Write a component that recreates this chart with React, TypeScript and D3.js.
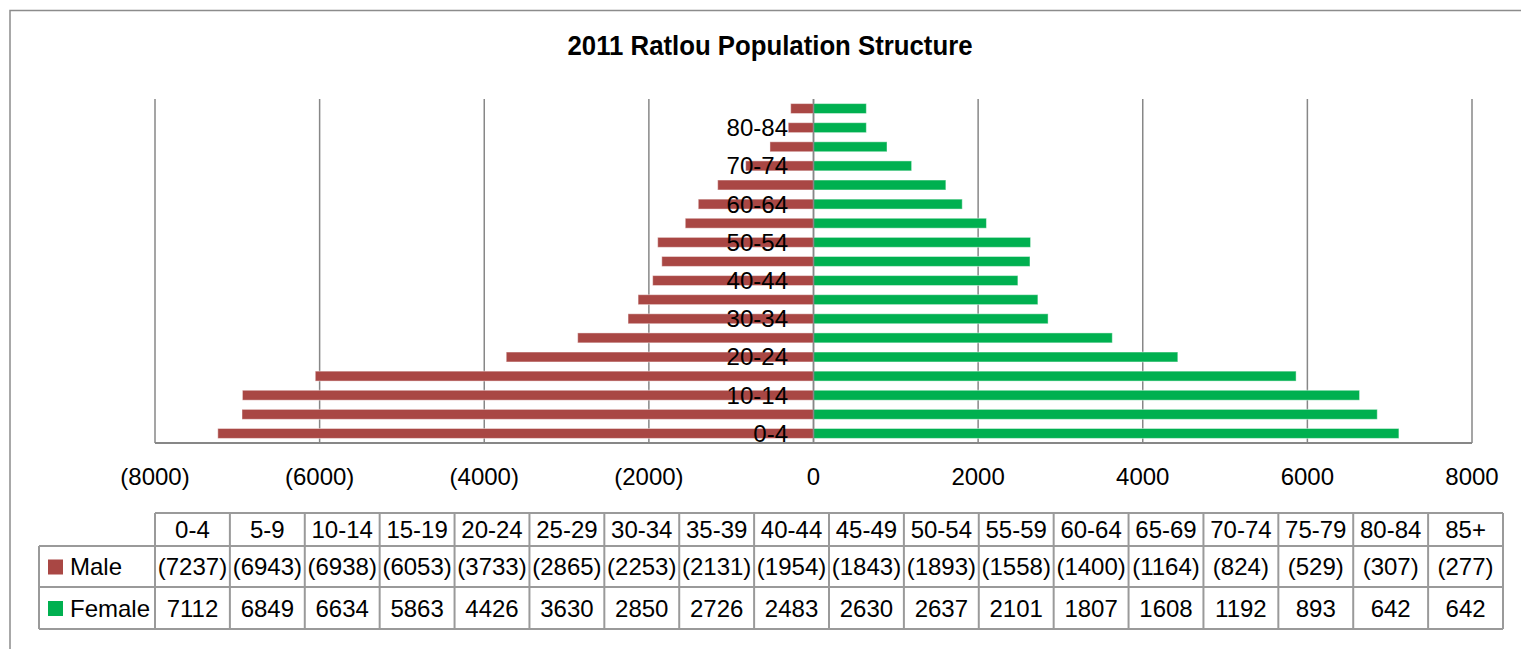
import React, { useEffect } from "react";
import * as d3 from "d3";

// Age groups, youngest first
const ageGroups = [
  "0-4", "5-9", "10-14", "15-19", "20-24", "25-29", "30-34", "35-39", "40-44",
  "45-49", "50-54", "55-59", "60-64", "65-69", "70-74", "75-79", "80-84", "85+",
];
// Male counts are stored as negatives so they extend left of zero
const maleValues = [
  -7237, -6943, -6938, -6053, -3733, -2865, -2253, -2131, -1954,
  -1843, -1893, -1558, -1400, -1164, -824, -529, -307, -277,
];
const femaleValues = [
  7112, 6849, 6634, 5863, 4426, 3630, 2850, 2726, 2483,
  2630, 2637, 2101, 1807, 1608, 1192, 893, 642, 642,
];
const xTicks = [-8000, -6000, -4000, -2000, 0, 2000, 4000, 6000, 8000];
const seriesNames = ["Male", "Female"];

const W = 1521;
const H = 649;
const FONT = "'Liberation Sans', Arial, sans-serif";
const MALE = "#A94744";
const FEMALE = "#00B050";
const GRID = "#878787";
const TABLE_LINE = "#9a9a9a";

const plot = { left: 155, right: 1472, top: 99, bottom: 443 };
const table = { left: 155, right: 1503, legendLeft: 39, rows: [513, 546, 587, 629] };

const fmt = (v: number) => (v < 0 ? `(${Math.abs(v)})` : `${v}`);

export default function App() {
  useEffect(() => {
    document.body.style.margin = "0";
  }, []);

  const x = d3.scaleLinear().domain([-8000, 8000]).range([plot.left, plot.right]);
  const y = d3
    .scaleBand<string>()
    .domain([...ageGroups].reverse())
    .range([plot.top, plot.bottom])
    .paddingInner(0.48)
    .paddingOuter(0.24);
  const col = d3.scaleBand<string>().domain(ageGroups).range([table.left, table.right]);
  const fs = 24;

  const rowMid = (i: number) => (table.rows[i] + table.rows[i + 1]) / 2;
  const seriesRows = [maleValues, femaleValues];
  const seriesColors = [MALE, FEMALE];

  return (
    <svg width={W} height={H} style={{ display: "block", background: "#fff" }} fontFamily={FONT}>
      {/* chart frame */}
      <path d={`M10,${H} L10,10.5 L${W},10.5`} fill="none" stroke="#8c8c8c" strokeWidth={1.5} />

      <text
        x={770}
        y={55}
        textAnchor="middle"
        fontWeight="bold"
        fontSize={27}
        textLength={405}
        lengthAdjust="spacingAndGlyphs"
        fill="#000"
      >
        2011 Ratlou Population Structure
      </text>

      {/* vertical gridlines */}
      {xTicks.map((t) => (
        <line key={t} x1={x(t)} x2={x(t)} y1={plot.top} y2={plot.bottom} stroke={GRID} strokeWidth={1.5} />
      ))}
      <line x1={plot.left} x2={plot.right} y1={plot.bottom} y2={plot.bottom} stroke={GRID} strokeWidth={2} />

      {/* bars */}
      {ageGroups.map((g, i) => (
        <g key={g}>
          <rect
            x={x(maleValues[i])}
            y={y(g)}
            width={x(0) - x(maleValues[i])}
            height={y.bandwidth()}
            fill={MALE}
            stroke="rgba(255,255,255,0.45)"
            strokeWidth={1}
          />
          <rect
            x={x(0)}
            y={y(g)}
            width={x(femaleValues[i]) - x(0)}
            height={y.bandwidth()}
            fill={FEMALE}
            stroke="rgba(255,255,255,0.45)"
            strokeWidth={1}
          />
        </g>
      ))}
      <line x1={x(0)} x2={x(0)} y1={plot.top} y2={plot.bottom} stroke={GRID} strokeWidth={1.5} />

      {/* category labels on every second group */}
      {ageGroups.map((g, i) =>
        i % 2 === 0 ? (
          <text
            key={g}
            x={788}
            y={(y(g) as number) + y.bandwidth() / 2 + fs * 0.35}
            textAnchor="end"
            fontSize={fs}
            fill="#000"
          >
            {g}
          </text>
        ) : null
      )}

      {/* x tick labels */}
      {xTicks.map((t) => (
        <text key={t} x={x(t)} y={485} textAnchor="middle" fontSize={fs} fill="#000">
          {fmt(t)}
        </text>
      ))}

      {/* data table */}
      <g>
        {/* horizontal lines */}
        <line x1={table.left} x2={table.right} y1={table.rows[0]} y2={table.rows[0]} stroke={TABLE_LINE} strokeWidth={2} />
        {table.rows.slice(1).map((r) => (
          <line key={r} x1={table.legendLeft} x2={table.right} y1={r} y2={r} stroke={TABLE_LINE} strokeWidth={2} />
        ))}
        {/* vertical lines */}
        <line x1={table.legendLeft} x2={table.legendLeft} y1={table.rows[1]} y2={table.rows[3]} stroke={TABLE_LINE} strokeWidth={2} />
        {ageGroups.map((g) => (
          <line
            key={g}
            x1={col(g)}
            x2={col(g)}
            y1={table.rows[0]}
            y2={table.rows[3]}
            stroke={TABLE_LINE}
            strokeWidth={2}
          />
        ))}
        <line x1={table.right} x2={table.right} y1={table.rows[0]} y2={table.rows[3]} stroke={TABLE_LINE} strokeWidth={2} />

        {ageGroups.map((g) => (
          <text
            key={g}
            x={(col(g) as number) + col.bandwidth() / 2}
            y={rowMid(0) + fs * 0.36}
            textAnchor="middle"
            fontSize={fs}
            fill="#000"
          >
            {g}
          </text>
        ))}

        {seriesRows.map((vals, r) => (
          <g key={seriesNames[r]}>
            <rect x={48} y={rowMid(r + 1) - 7} width={15} height={15} fill={seriesColors[r]} />
            <text x={70} y={rowMid(r + 1) + fs * 0.36} fontSize={fs} fill="#000">
              {seriesNames[r]}
            </text>
            {ageGroups.map((g, i) => (
              <text
                key={g}
                x={(col(g) as number) + col.bandwidth() / 2}
                y={rowMid(r + 1) + fs * 0.36}
                textAnchor="middle"
                fontSize={fs}
                fill="#000"
              >
                {fmt(vals[i])}
              </text>
            ))}
          </g>
        ))}
      </g>
    </svg>
  );
}
